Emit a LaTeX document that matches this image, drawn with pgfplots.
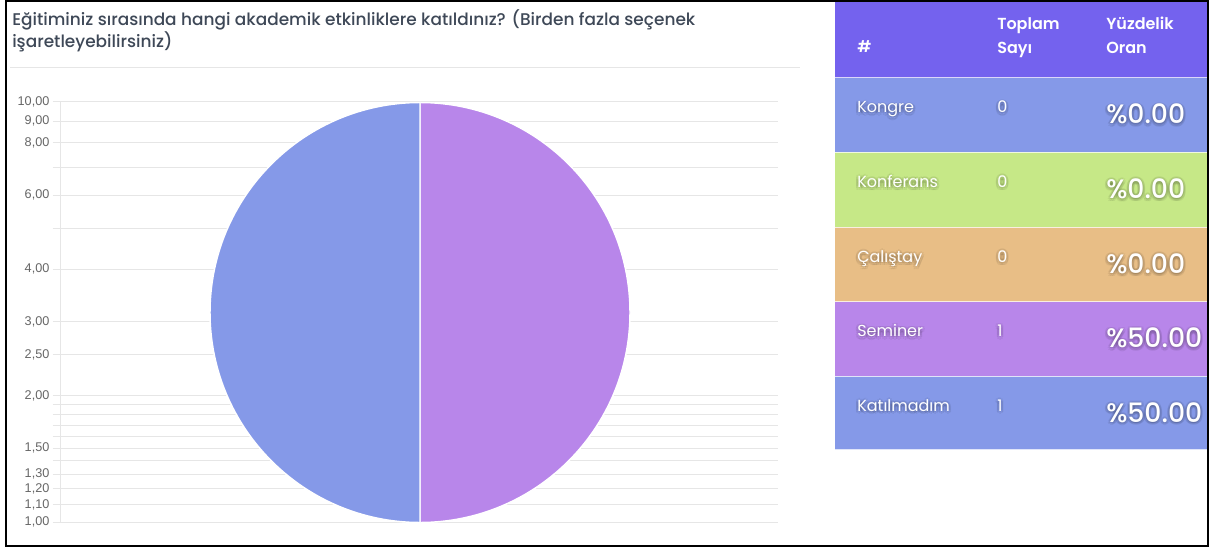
\documentclass[border=0pt]{standalone}
\usepackage{pgfplots}
\pgfplotsset{compat=1.18}
\usepackage{pgfplotstable}
\usepackage{fontspec}
\setmainfont{Poppins}
\newfontfamily\arialfont{Liberation Sans}
\newfontfamily\popmed{Poppins}[UprightFont=* Medium, BoldFont=* SemiBold]

\definecolor{headbg}{HTML}{7462EE}
\definecolor{cblue}{HTML}{8599E8}
\definecolor{cgreen}{HTML}{C6E887}
\definecolor{corange}{HTML}{E8BE86}
\definecolor{cpurple}{HTML}{B886EA}
\definecolor{titlecol}{HTML}{3E4857}
\definecolor{tickcol}{HTML}{666666}
\definecolor{gridcol}{HTML}{E6E6E6}
\colorlet{slice0}{cblue}
\colorlet{slice1}{cgreen}
\colorlet{slice2}{corange}
\colorlet{slice3}{cpurple}
\colorlet{slice4}{cblue}

% answers: Kongre, Konferans, Calistay, Seminer, Katilmadim
\pgfplotstableread{
idx count
0 0
1 0
2 0
3 1
4 1
}\piedata

\def\pieR{157.5pt}
\pgfplotstablegetrowsof{\piedata}
\pgfmathtruncatemacro{\nrows}{\pgfplotsretval-1}
\gdef\pietotal{0}
\pgfplotsforeachungrouped \i in {0,...,\nrows}{%
  \pgfplotstablegetelem{\i}{count}\of\piedata
  \pgfmathparse{\pietotal+\pgfplotsretval}\xdef\pietotal{\pgfmathresult}}
% slices clockwise from the top
\gdef\piestart{90}
\gdef\pieslices{}
\pgfplotsforeachungrouped \i in {0,...,\nrows}{%
  \pgfplotstablegetelem{\i}{count}\of\piedata
  \pgfmathparse{\piestart-360*\pgfplotsretval/\pietotal}\let\pieend\pgfmathresult
  \xdef\pieslices{\unexpanded\expandafter{\pieslices}%
    \noexpand\filldraw[fill=slice\i, draw=white, line width=1.1pt]
      (axis cs:0,0) -- (axis cs:{cos(\piestart)},{sin(\piestart)})
      arc[start angle=\piestart, end angle=\pieend, radius=\pieR] -- cycle;}%
  \xdef\piestart{\pieend}}

% white text with a soft dark halo
\newcommand\shnode[3]{%
  \foreach \dx/\dy in {0/-1,2.5/-1,-2.5/-1,0/-3.5,0/1.5,1.8/-2.8,-1.8/-2.8,1.8/0.8,-1.8/0.8}{%
    \node[anchor=base west, inner sep=0, font=#2, text=black, text opacity=0.06]
      at ([shift={(\dx,\dy)}]#1) {#3};}%
  \node[anchor=base west, inner sep=0, font=#2, text=white] at (#1) {#3};}

\begin{document}
\begin{tikzpicture}[x=0.75pt,y=0.75pt]
\path[use as bounding box, fill=white] (0,0) rectangle (1209,547);
\coordinate (gridSW) at (60,25);
\coordinate (pieC) at (420,234.5);

\node[anchor=base west, inner sep=0, text=titlecol, font=\popmed\fontsize{12.7}{15}\selectfont]
  at (12,521) {Eğitiminiz sırasında hangi akademik etkinliklere katıldınız? (Birden fazla seçenek};
\node[anchor=base west, inner sep=0, text=titlecol, font=\popmed\fontsize{12.7}{15}\selectfont]
  at (12,499) {işaretleyebilirsiniz)};
\draw[gridcol, line width=0.75pt] (10,479) -- (800,479);

\begin{axis}[
    at={(gridSW)}, anchor=south west,
    scale only axis, width=538.5pt, height=315pt,
    ymode=log, ymin=1, ymax=10, xmin=0, xmax=1,
    axis x line=none, axis y line*=left,
    axis line style={gridcol, line width=0.75pt},
    ytick={1,1.1,1.2,1.3,1.5,2,2.5,3,4,6,8,9,10},
    yticklabels={{1,00},{1,10},{1,20},{1,30},{1,50},{2,00},{2,50},{3,00},{4,00},{6,00},{8,00},{9,00},{10,00}},
    minor ytick={1.4,1.6,1.7,1.8,1.9,5,7},
    ymajorgrids, yminorgrids,
    major grid style={gridcol, line width=0.75pt},
    minor grid style={gridcol, line width=0.75pt},
    tick align=outside,
    major tick length=5.25pt, minor tick length=5.25pt,
    tick style={gridcol, line width=0.75pt},
    yticklabel style={font=\arialfont\fontsize{9.5}{9.5}\selectfont, text=tickcol, inner sep=2.5pt},
]
\end{axis}

\begin{axis}[
    at={(pieC)}, anchor=center,
    hide axis, scale only axis, clip=false,
    x=\pieR, y=\pieR, xmin=-1, xmax=1, ymin=-1, ymax=1,
]
\pieslices
\end{axis}

% table
\fill[headbg] (835,547) rectangle (1208,469);
\fill[cblue] (835,469) rectangle (1208,394.5);
\fill[cgreen] (835,394.5) rectangle (1208,319.7);
\fill[corange] (835,319.7) rectangle (1208,245.3);
\fill[cpurple] (835,245.3) rectangle (1208,171);
\fill[cblue] (835,171) rectangle (1208,97.5);
\foreach \yy in {469,394.5,319.7,245.3,171,97.5}
  \draw[white, opacity=0.75, line width=0.75pt] (835,\yy) -- (1208,\yy);

\foreach \tx/\ty/\tt in {857/494/\#, 997/517/Toplam, 997/493/Sayı, 1106/517/Yüzdelik, 1106/493/Oran}
  \node[anchor=base west, inner sep=0, text=white, font=\popmed\bfseries\fontsize{12}{14}\selectfont] at (\tx,\ty) {\tt};

\foreach \ry/\nm/\ct/\pc in {469/Kongre/0/0.00, 394.5/Konferans/0/0.00, 319.7/Çalıştay/0/0.00,
                             245.3/Seminer/1/50.00, 171/Katılmadım/1/50.00}{
  \shnode{857,\ry-35}{\fontsize{12}{14}\selectfont}{\nm}
  \shnode{997,\ry-35}{\fontsize{12}{14}\selectfont}{\ct}
  \shnode{1106,\ry-46}{\popmed\fontsize{20}{24}\selectfont}{\%\pc}
}

\draw[black, line width=1.5pt] (6,546) rectangle (1208,1.5);
\end{tikzpicture}
\end{document}
